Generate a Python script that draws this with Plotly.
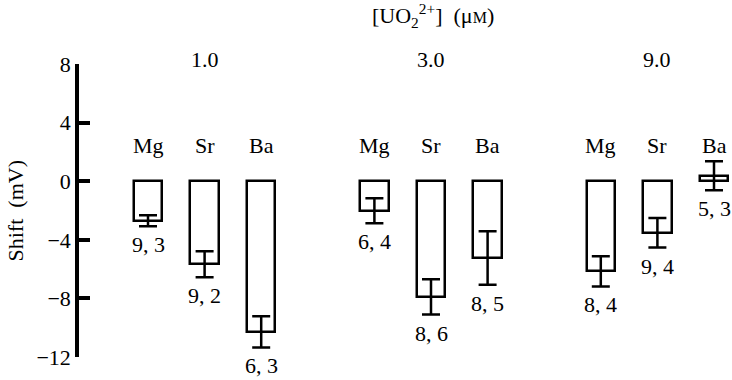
import plotly.graph_objects as go

# Data
concentrations = ["1.0", "3.0", "9.0"]
ions = ["Mg", "Sr", "Ba"]
x_pos = [0, 1, 2, 4, 5, 6, 8, 9, 10]
shift_mv = [-2.7, -5.67, -10.28, -2.02, -7.9, -5.24, -6.15, -3.52, 0.38]
shift_err = [0.38, 0.89, 1.07, 0.85, 1.2, 1.82, 1.03, 1.01, 0.99]
n_labels = ["9, 3", "9, 2", "6, 3", "6, 4", "8, 6", "8, 5", "8, 4", "9, 4", "5, 3"]
ytick_vals = [8, 4, 0, -4, -8, -12]
ytick_text = ["8", "4", "0", "\u22124", "\u22128", "\u221212"]

FONT = "Liberation Serif"
FS = 22

fig = go.Figure()
fig.add_trace(go.Bar(
    x=x_pos, y=shift_mv, width=0.5,
    marker=dict(color="white", line=dict(color="black", width=2.5)),
    error_y=dict(type="data", array=shift_err, visible=True,
                 color="black", thickness=2.5, width=9),
    showlegend=False, hoverinfo="skip",
))

annotations = []
for i, xp in enumerate(x_pos):
    annotations.append(dict(x=xp, y=2.46, xref="x", yref="y", text=ions[i % 3],
                            showarrow=False, xanchor="center", yanchor="middle",
                            font=dict(family=FONT, size=FS, color="black")))
    annotations.append(dict(x=xp, y=shift_mv[i] - shift_err[i], xref="x", yref="y",
                            text=n_labels[i], showarrow=False, xanchor="center",
                            yanchor="top", yshift=-4,
                            font=dict(family=FONT, size=FS, color="black")))
for g, c in enumerate(concentrations):
    annotations.append(dict(x=x_pos[g * 3 + 1], y=1.0137, xref="x", yref="paper", text=c,
                            showarrow=False, xanchor="center", yanchor="middle",
                            font=dict(family=FONT, size=FS, color="black")))
annotations.append(dict(x=0.542, y=1.164, xref="paper", yref="paper",
                        text="[UO<sub>2</sub><sup>2+</sup>]  (\u03bc<span style='font-size:16px'>M</span>)",
                        showarrow=False, xanchor="center", yanchor="middle",
                        font=dict(family=FONT, size=FS, color="black")))
annotations.append(dict(x=-0.0965, y=0.5, xref="paper", yref="paper",
                        text="Shift  (mV)", textangle=-90,
                        showarrow=False, xanchor="center", yanchor="middle",
                        font=dict(family=FONT, size=FS, color="black")))

fig.update_layout(
    width=732, height=380,
    margin=dict(l=79, r=0, t=64, b=23),
    paper_bgcolor="white", plot_bgcolor="white",
    annotations=annotations,
    hovermode=False,
    xaxis=dict(visible=False, range=[-1.219, 10.318]),
    yaxis=dict(range=[-12, 8], tickvals=ytick_vals, ticktext=ytick_text,
               showline=True, linecolor="black", linewidth=3.5,
               ticks="inside", ticklen=11, tickwidth=4, tickcolor="black",
               showgrid=False, zeroline=False,
               tickfont=dict(family=FONT, size=FS, color="black")),
    bargap=0,
)

fig.write_html("out.html",
               config={"displayModeBar": False},
               post_script="document.body.style.margin='0';document.body.style.overflow='hidden';")
